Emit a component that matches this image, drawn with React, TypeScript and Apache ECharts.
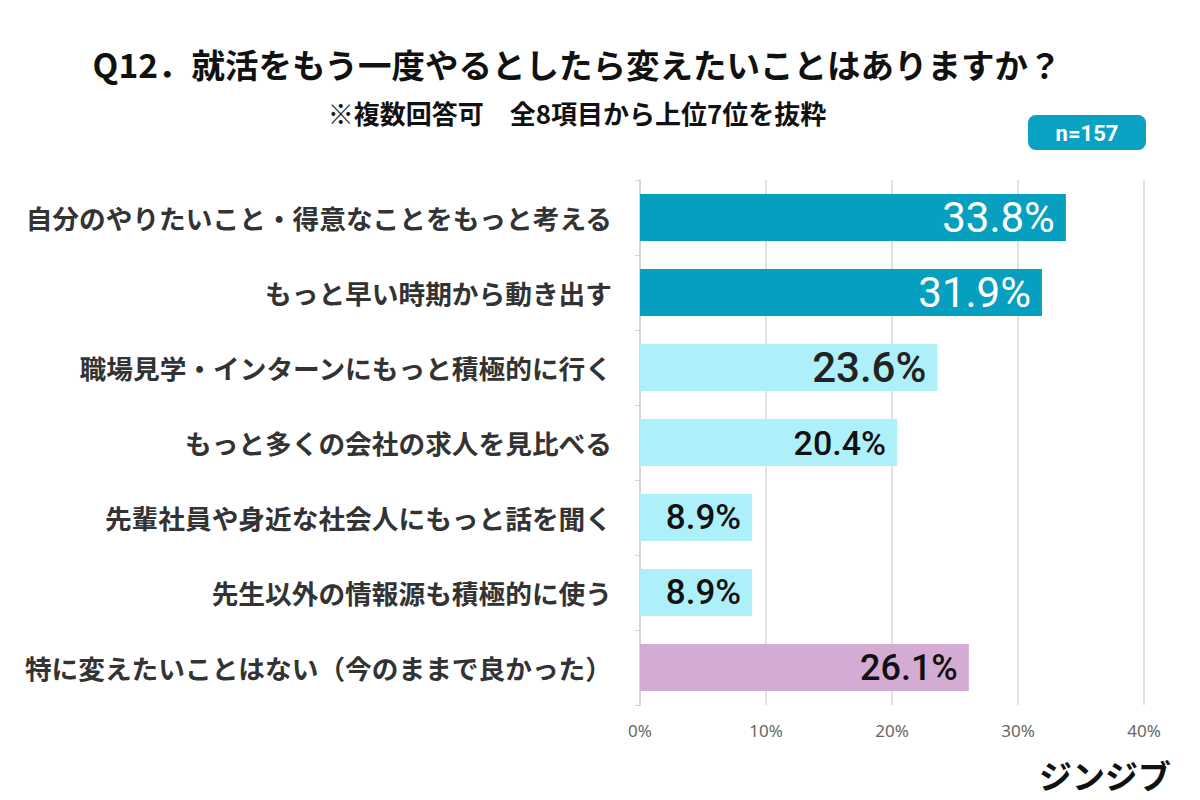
import React, { useEffect, useRef } from "react";
import * as echarts from "echarts";

const categories = [
  "自分のやりたいこと・得意なことをもっと考える",
  "もっと早い時期から動き出す",
  "職場見学・インターンにもっと積極的に行く",
  "もっと多くの会社の求人を見比べる",
  "先輩社員や身近な社会人にもっと話を聞く",
  "先生以外の情報源も積極的に使う",
  "特に変えたいことはない（今のままで良かった）",
];
const values = [33.8, 31.9, 23.6, 20.4, 8.9, 8.9, 26.1];
const barColors = ["#069fc0", "#069fc0", "#aef0fa", "#aef0fa", "#aef0fa", "#aef0fa", "#d4abd2"];
const labelColors = ["#ffffff", "#ffffff", "#222222", "#111111", "#111111", "#111111", "#111111"];
const labelSizes = [42, 42, 42, 34, 35, 35, 36];
const labelWeights = [400, 400, 500, 500, 500, 500, 500];
const xTicks = [0, 10, 20, 30, 40];

const titleText = "Q12．就活をもう一度やるとしたら変えたいことはありますか？";
const subtitleText = "※複数回答可　全8項目から上位7位を抜粋";
const sampleText = "n=157";
const brandText = "ジンジブ";

const JP = '"Noto Sans CJK JP", "Noto Sans", sans-serif';

export default function App() {
  const ref = useRef<HTMLDivElement>(null);

  useEffect(() => {
    document.body.style.margin = "0";
    if (!ref.current) return;
    const chart = echarts.init(ref.current, null, { renderer: "svg" });

    chart.setOption({
      animation: false,
      backgroundColor: "#ffffff",
      textStyle: { fontFamily: JP },
      grid: { left: 640, right: 56, top: 180, bottom: 95, containLabel: false },
      xAxis: {
        type: "value",
        min: xTicks[0],
        max: xTicks[xTicks.length - 1],
        interval: 10,
        axisLine: { show: false },
        axisTick: { show: false },
        splitLine: { show: true, lineStyle: { color: "#d9d9d9", width: 1.5 } },
        axisLabel: {
          color: "#666666",
          fontSize: 17,
          fontFamily: '"Noto Sans", sans-serif',
          margin: 17,
          formatter: (v: number) => `${v}%`,
        },
      },
      yAxis: {
        type: "category",
        inverse: true,
        data: categories,
        axisLine: { show: true, lineStyle: { color: "#d0d0d0", width: 1.5 } },
        axisTick: { show: true, length: 5, lineStyle: { color: "#d0d0d0" } },
        axisLabel: {
          color: "#333333",
          fontSize: 26.7,
          fontWeight: "bold",
          fontFamily: JP,
          margin: 28,
        },
      },
      series: [
        {
          type: "bar",
          barWidth: 47,
          data: values.map((v, i) => ({
            value: v,
            itemStyle: { color: barColors[i] },
            label: {
              show: true,
              position: "insideRight",
              distance: 11,
              color: labelColors[i],
              fontSize: labelSizes[i],
              fontWeight: labelWeights[i],
              fontFamily: 'Roboto, "Noto Sans", sans-serif',
              formatter: `${v.toFixed(1)}%`,
            },
          })),
        },
      ],
      graphic: [
        {
          type: "text",
          x: 577,
          y: 63,
          style: {
            text: titleText,
            fill: "#111111",
            font: `bold 33.5px ${JP}`,
            textAlign: "center",
            textVerticalAlign: "middle",
          },
        },
        {
          type: "text",
          x: 577,
          y: 112,
          style: {
            text: subtitleText,
            fill: "#111111",
            font: `bold 26px ${JP}`,
            textAlign: "center",
            textVerticalAlign: "middle",
          },
        },
        {
          type: "rect",
          shape: { x: 1028, y: 115, width: 118, height: 35, r: 8 },
          style: { fill: "#0aa2c2" },
        },
        {
          type: "text",
          x: 1087,
          y: 133,
          style: {
            text: sampleText,
            fill: "#ffffff",
            font: 'bold 22px Roboto, "Noto Sans", sans-serif',
            textAlign: "center",
            textVerticalAlign: "middle",
          },
        },
        {
          type: "text",
          x: 1105,
          y: 775,
          style: {
            text: brandText,
            fill: "#111111",
            font: `bold 33px ${JP}`,
            textAlign: "center",
            textVerticalAlign: "middle",
          },
        },
      ],
    });

    return () => chart.dispose();
  }, []);

  return <div ref={ref} style={{ width: 1200, height: 800 }} />;
}
